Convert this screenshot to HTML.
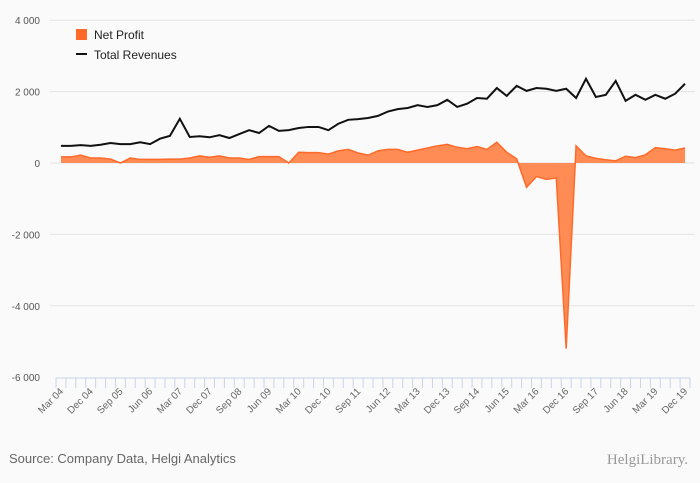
<!DOCTYPE html>
<html><head><meta charset="utf-8"><style>
body{margin:0;background:#fafafa;font-family:"Liberation Sans",sans-serif}
svg{display:block}
</style></head><body>
<svg id="c" width="700" height="483"></svg>
<script>
const categories=[];
const qn=["Mar","Jun","Sep","Dec"];
for(let y=4;y<=19;y++)for(const q of qn)categories.push(q+" "+String(y).padStart(2,"0"));
const revenues=[480,480,500,480,510,560,530,530,580,530,680,760,1240,730,750,720,780,700,810,920,840,1040,900,920,980,1010,1010,920,1100,1210,1230,1260,1320,1440,1510,1540,1620,1570,1620,1770,1570,1660,1820,1800,2100,1880,2160,2020,2100,2080,2020,2080,1820,2360,1850,1910,2300,1740,1910,1770,1910,1800,1940,2220];
const netProfit=[170,170,220,140,140,110,0,140,100,100,100,110,110,140,200,160,200,140,140,100,180,180,180,0,300,290,290,250,340,380,280,220,340,380,380,300,360,420,480,520,440,400,460,380,580,300,120,-680,-380,-460,-420,-5200,480,200,130,90,60,190,150,230,430,400,360,420];
const yTicks=[4000,2000,0,-2000,-4000,-6000];
const yTickLabels=["4 000","2 000","0","-2 000","-4 000","-6 000"];
const NS="http://www.w3.org/2000/svg",svg=document.getElementById("c");
const x0=56,x1=690,bw=(x1-x0)/categories.length;
const X=i=>x0+bw*(i+0.5);
const Y=v=>163-v*0.0357;
function mk(t,a,p){const e=document.createElementNS(NS,t);for(const k in a)e.setAttribute(k,a[k]);(p||svg).appendChild(e);return e;}
yTicks.forEach((v,i)=>{
 if(v!==-6000){const g=mk("line",{x1:50,x2:695,y1:Y(v),y2:Y(v),stroke:"#e3e3e3","stroke-width":1});
 
 }
 const t=mk("text",{x:40,y:Y(v)+4,"text-anchor":"end","font-size":10,fill:"#555"});t.textContent=yTickLabels[i];
 
 
});
const ax=mk("line",{x1:x0,x2:x1,y1:378,y2:378,stroke:"#c8d4e8"});


for(let i=0;i<=categories.length;i++){const tk=mk("line",{x1:x0+bw*i,x2:x0+bw*i,y1:378,y2:388,stroke:"#c8d4e8"});
 
 }
categories.forEach((c,i)=>{if(i%3)return;
 const t=mk("text",{transform:`translate(${X(i)+3},${392}) rotate(-45)`,"text-anchor":"end","font-size":10,fill:"#666"});t.textContent=c;
 
 });
let d=`M${X(0)},${Y(0)}`;netProfit.forEach((v,i)=>d+=`L${X(i)},${Y(v)}`);d+=`L${X(netProfit.length-1)},${Y(0)}Z`;
const area=mk("path",{d:d,fill:"#ff8c55",stroke:"none"});


const nl=mk("polyline",{points:netProfit.map((v,i)=>X(i)+","+Y(v)).join(" "),fill:"none",stroke:"#ff6a2a","stroke-width":1.5});


const rl=mk("polyline",{points:revenues.map((v,i)=>X(i)+","+Y(v)).join(" "),fill:"none",stroke:"#111","stroke-width":2});


const l1=mk("rect",{x:76,y:29,width:11,height:11,fill:"#ff6a2a"});


const lt1=mk("text",{x:94,y:39,"font-size":12,fill:"#222"});lt1.textContent="Net Profit";


const l2=mk("line",{x1:76,x2:87,y1:54,y2:54,stroke:"#111","stroke-width":2});


const lt2=mk("text",{x:94,y:59,"font-size":12,fill:"#222"});lt2.textContent="Total Revenues";


const src=mk("text",{x:9,y:463,"font-size":13,fill:"#666"});src.textContent="Source: Company Data, Helgi Analytics";


const logo=mk("text",{x:688,y:464,"text-anchor":"end","font-size":15,fill:"#999","font-family":"Liberation Serif, serif"});logo.textContent="HelgiLibrary.";


</script>
</body></html>
